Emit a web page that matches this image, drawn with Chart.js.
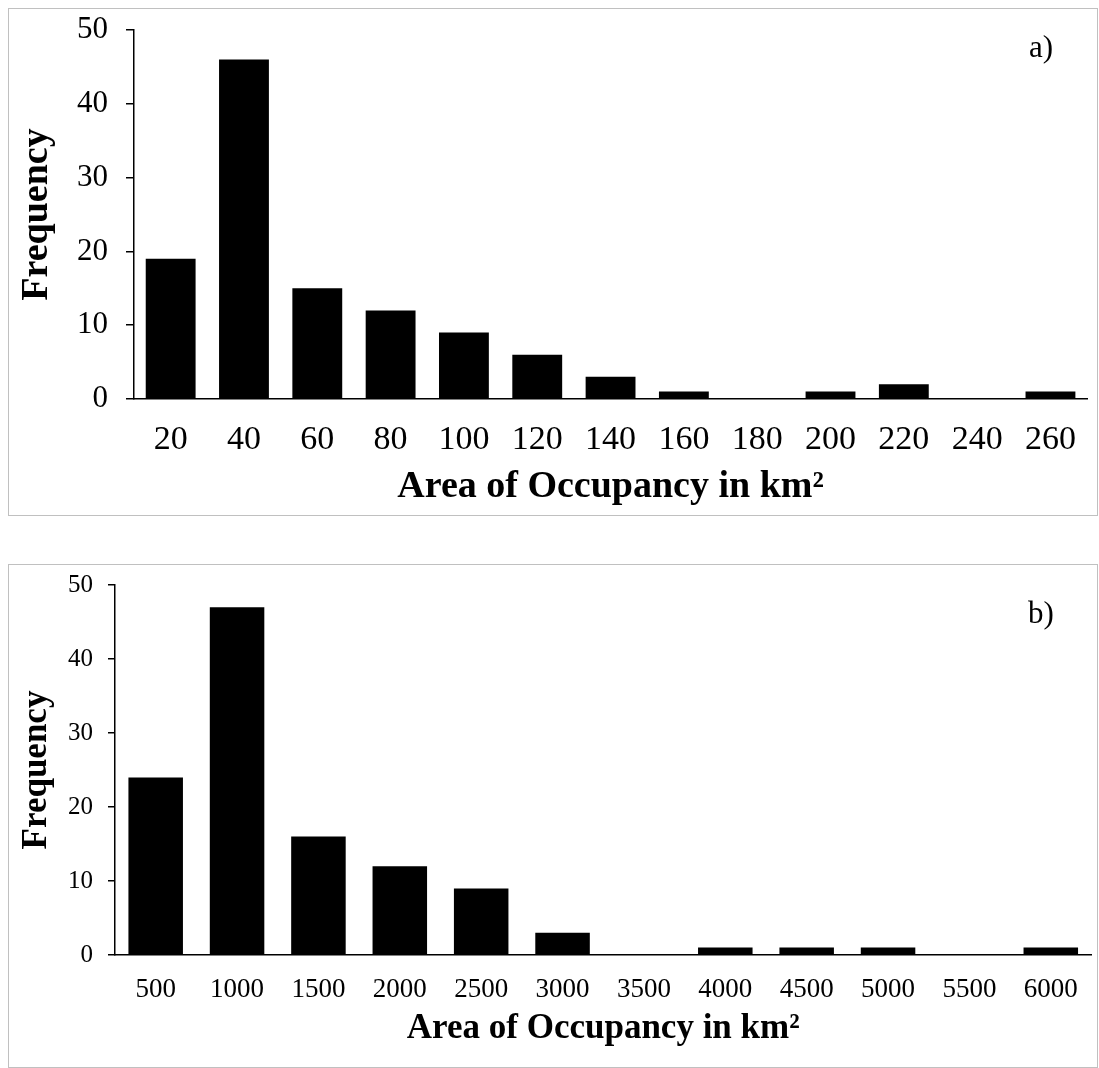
<!DOCTYPE html>
<html>
<head>
<meta charset="utf-8">
<script src="https://cdn.jsdelivr.net/npm/chart.js@4.4.0/dist/chart.umd.min.js"></script>
<style>
  body { margin: 0; background: #fff; font-family: "Liberation Serif", "Times New Roman", serif; }
  .panel { position: absolute; left: 8px; width: 1088px; border: 1px solid #c0c0c0; background: #fff; }
  #panelA { top: 8px; height: 506px; }
  #panelB { top: 564px; height: 502px; }
  .tag { position: absolute; font-size: 31px; color: #000; line-height: 1; }
</style>
</head>
<body>
<div class="panel" id="panelA"><canvas id="chartA"></canvas></div>
<div class="panel" id="panelB"><canvas id="chartB"></canvas></div>
<div class="tag" style="left:1029px; top:31px;">a)</div>
<div class="tag" style="left:1028px; top:597px;">b)</div>
<script>
const aocLabelsA = ['20', '40', '60', '80', '100', '120', '140', '160', '180', '200', '220', '240', '260'];
const freqA = [19, 46, 15, 12, 9, 6, 3, 1, 0, 1, 2, 0, 1];

const aocLabelsB = ['500', '1000', '1500', '2000', '2500', '3000', '3500', '4000', '4500', '5000', '5500', '6000'];
const freqB = [24, 47, 16, 12, 9, 3, 0, 1, 1, 1, 0, 1];

const yTicks = { min: 0, max: 50, step: 10 };
const xTitle = 'Area of Occupancy in km\u00b2';
const yTitle = 'Frequency';
const serif = '"Liberation Serif", "Times New Roman", serif';

// s = sizes for one panel
function makeChart(id, labels, values, s) {
    const ctx = document.getElementById(id);
    return new Chart(ctx, {
        type: 'bar',
        data: {
            labels: labels,
            datasets: [
                {
                    data: values,
                    backgroundColor: '#000',
                    borderWidth: 0,
                    categoryPercentage: 1,
                    barPercentage: s.bar,
                },
            ],
        },
        options: {
            responsive: true,
            maintainAspectRatio: false,
            animation: false,
            layout: { padding: { left: 0, top: s.top, right: s.right, bottom: 0 } },
            plugins: { legend: { display: false }, tooltip: { enabled: false } },
            scales: {
                x: {
                    grid: { display: true, drawOnChartArea: false, drawTicks: false },
                    border: { display: true, color: '#000', width: 1.5 },
                    ticks: {
                        color: '#000',
                        padding: s.xPad,
                        maxRotation: 0,
                        autoSkip: false,
                        font: { family: serif, size: s.xTick, lineHeight: 1.2 },
                    },
                    title: {
                        display: true,
                        text: xTitle,
                        color: '#000',
                        padding: { top: 0, bottom: s.xTitlePad },
                        font: { family: serif, size: s.title, weight: 'bold', lineHeight: 1.2 },
                    },
                    afterFit: (scale) => { scale.height = s.xHeight; },
                },
                y: {
                    min: yTicks.min,
                    max: yTicks.max,
                    grid: { display: true, drawOnChartArea: false, drawTicks: true, tickLength: s.tick, color: '#000', lineWidth: 1.5 },
                    border: { display: true, color: '#000', width: 1.5 },
                    ticks: {
                        stepSize: yTicks.step,
                        color: '#000',
                        padding: s.yPad,
                        font: { family: serif, size: s.yTick, lineHeight: 1.2 },
                    },
                    title: {
                        display: true,
                        text: yTitle,
                        color: '#000',
                        padding: { top: s.yTitlePad, bottom: 0 },
                        font: { family: serif, size: s.title, weight: 'bold', lineHeight: 1.2 },
                    },
                    afterFit: (scale) => {
                        scale.width = s.yWidth;
                        // tick padding otherwise gets added above the top label
                        scale.paddingTop = 0;
                        scale.paddingBottom = 0;
                    },
                },
            },
        },
    });
}

makeChart('chartA', aocLabelsA, freqA, {
    bar: 0.68, top: 21, right: 1, xHeight: 116, yWidth: 125,
    xTick: 34, yTick: 31, title: 38, tick: 8,
    xPad: 21, yPad: 18, xTitlePad: 5, yTitlePad: 5,
});

makeChart('chartB', aocLabelsB, freqB, {
    bar: 0.67, top: 20, right: 5, xHeight: 112, yWidth: 106,
    xTick: 27, yTick: 25, title: 35, tick: 7,
    xPad: 19, yPad: 15, xTitlePad: 17, yTitlePad: 7,
});
</script>
</body>
</html>
